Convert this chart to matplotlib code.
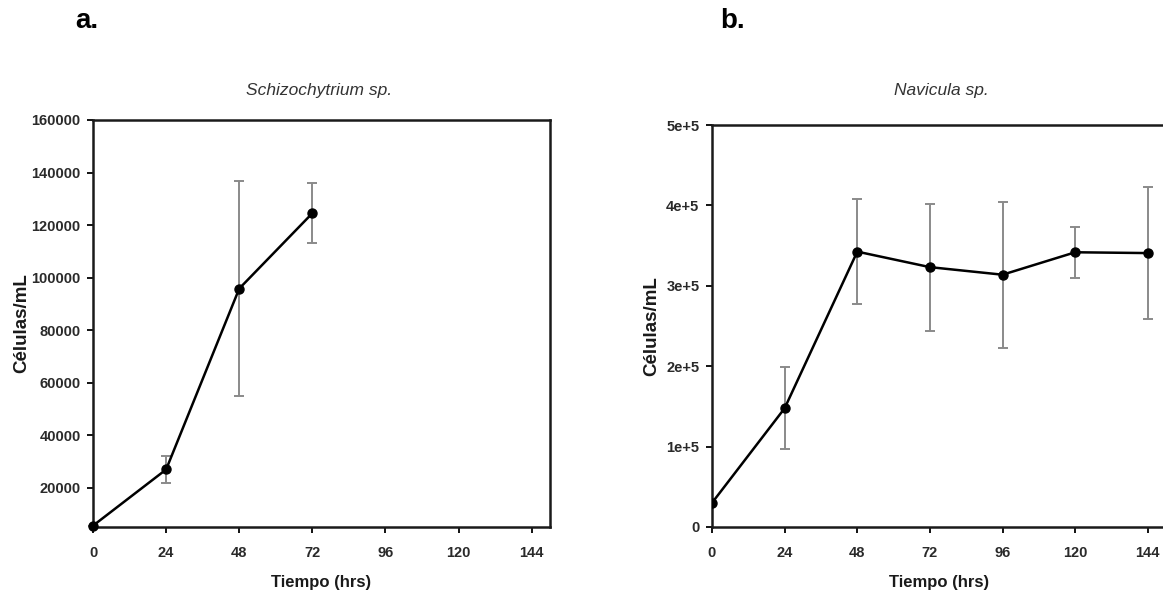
import numpy as np
import matplotlib
matplotlib.use('Agg')
import matplotlib.pyplot as plt

plt.rcParams['font.family'] = ['Liberation Sans', 'DejaVu Sans']

# datos
horas_a = [0, 24, 48, 72]
cel_a = [5500, 26900, 95800, 124500]
err_a = [0, 5000, 41000, 11500]

horas_b = [0, 24, 48, 72, 96, 120, 144]
cel_b = [30000, 147700, 342500, 323200, 313800, 341700, 340700]
err_b = [0, 51000, 65500, 79000, 91000, 31500, 82000]

xticks = [0, 24, 48, 72, 96, 120, 144]
yticks_a = [20000, 40000, 60000, 80000, 100000, 120000, 140000, 160000]
yticks_b = [0, 100000, 200000, 300000, 400000, 500000]
ylabels_b = ['0', '1e+5', '2e+5', '3e+5', '4e+5', '5e+5']

W, H = 1163, 602
fig = plt.figure(figsize=(W / 100, H / 100), dpi=100)

def px(x0, y0, x1, y1):
    return [x0 / W, 1 - y1 / H, (x1 - x0) / W, (y1 - y0) / H]

ax1 = fig.add_axes(px(93, 120, 550, 527))
ax2 = fig.add_axes(px(712, 125, 1166, 527))

def estilo(ax, ylab_x):
    for s in ax.spines.values():
        s.set_linewidth(1.8)
        s.set_color('#1a1a1a')
    ax.tick_params(axis='x', direction='out', length=4, width=1.3, pad=10)
    ax.tick_params(axis='y', direction='out', length=4, width=1.3, pad=5)
    for t in ax.get_xticklabels() + ax.get_yticklabels():
        t.set_fontsize(10.5)
        t.set_fontweight('bold')
        t.set_color('#2a2a2a')
    ax.set_xlabel('Tiempo (hrs)', fontsize=12, fontweight='bold', color='#1a1a1a')
    ax.set_ylabel('Células/mL', fontsize=13.5, fontweight='bold', color='#1a1a1a')
    bb = ax.get_position()
    ax.xaxis.set_label_coords((bb.x0 + bb.x1) / 2, 1 - 582 / H, transform=fig.transFigure)
    ax.xaxis.label.set_va('center')
    ax.yaxis.set_label_coords(ylab_x / W, (bb.y0 + bb.y1) / 2, transform=fig.transFigure)
    ax.yaxis.label.set_va('center')

ax1.errorbar(horas_a, cel_a, yerr=err_a, color='black', lw=1.8, marker='o', ms=6.5,
             ecolor='#8a8a8a', elinewidth=1.4, capsize=3.5, capthick=1.4, clip_on=False, zorder=3)
ax1.set_xlim(0, 150)
ax1.set_ylim(5000, 160000)
ax1.set_xticks(xticks)
ax1.set_yticks(yticks_a)
estilo(ax1, 22)

ax2.errorbar(horas_b, cel_b, yerr=err_b, color='black', lw=1.8, marker='o', ms=6.5,
             ecolor='#8a8a8a', elinewidth=1.4, capsize=3.5, capthick=1.4, zorder=3)
ax2.set_xlim(0, 150)
ax2.set_ylim(0, 500000)
ax2.set_xticks(xticks)
ax2.set_yticks(yticks_b)
ax2.set_yticklabels(ylabels_b)
estilo(ax2, 652)

fig.text(319 / W, 1 - 90 / H, 'Schizochytrium sp.', fontstyle='italic', fontsize=12.5,
         color='#333333', ha='center', va='center')
fig.text(941 / W, 1 - 90 / H, 'Navicula sp.', fontstyle='italic', fontsize=12.5,
         color='#333333', ha='center', va='center')

fig.text(75 / W, 1 - 21 / H, 'a.', fontsize=20, fontweight='bold', va='center')
fig.text(720 / W, 1 - 21 / H, 'b.', fontsize=20, fontweight='bold', va='center')

fig.savefig('out.png', dpi=100)
